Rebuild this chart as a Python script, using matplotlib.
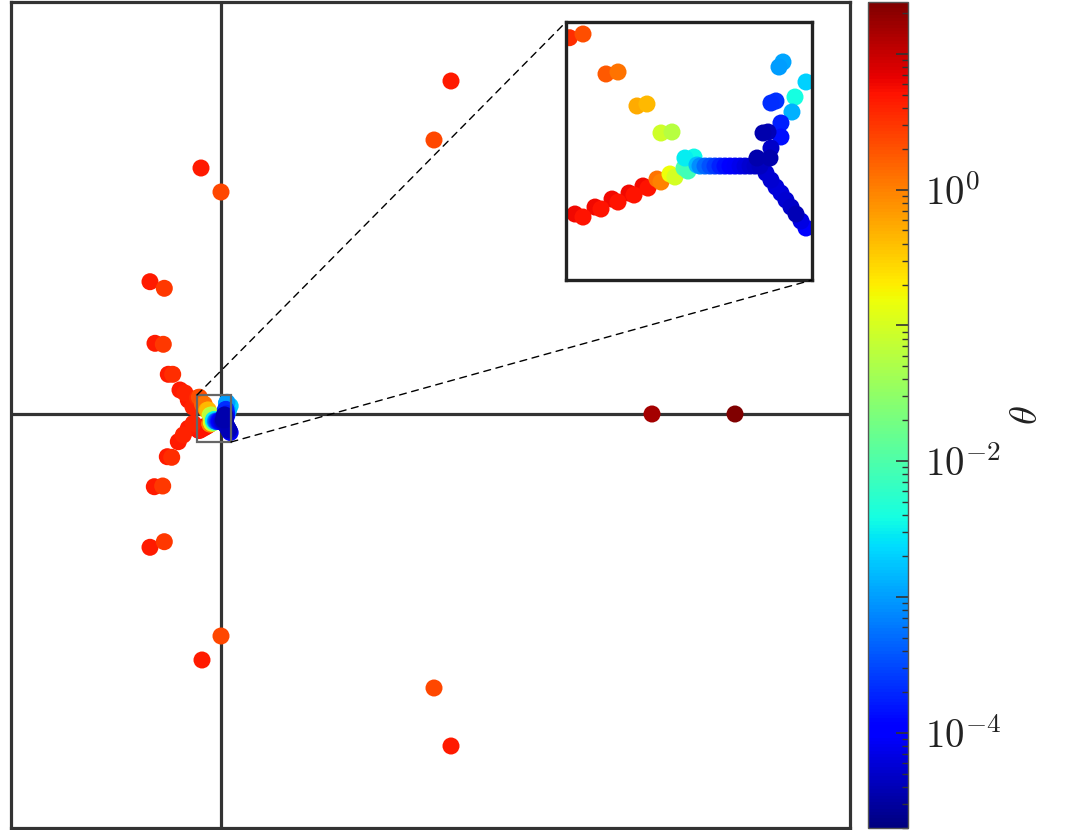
import numpy as np
import matplotlib
matplotlib.use("Agg")
import matplotlib.pyplot as plt
from matplotlib.colors import LogNorm
from matplotlib.patches import Rectangle, ConnectionPatch
from matplotlib.ticker import FixedLocator, FuncFormatter, NullFormatter

plt.rcParams['mathtext.fontset'] = 'cm'

# far-away eigenvalues (real part, imaginary part, theta)
far_re = [-0.195, 0.005, -0.185, 0.005, 2.305, 2.135, 2.135, 2.305, 4.315, 5.145,
          -0.705, -0.562, -0.655, -0.572, -0.522, -0.478, -0.405, -0.355, -0.322, -0.275,
          -0.705, -0.562, -0.662, -0.578, -0.532, -0.488, -0.422, -0.372, -0.322, -0.272]
far_im = [2.46, 2.22, -2.46, -2.22, 3.33, 2.74, -2.74, -3.32, 0.0, 0.0,
          1.323, 1.257, 0.707, 0.697, 0.397, 0.397, 0.24, 0.21, 0.14, 0.07,
          -1.333, -1.277, -0.727, -0.72, -0.427, -0.433, -0.277, -0.21, -0.143, -0.093]
far_theta = [4.5, 2.3, 4.5, 2.3, 4.5, 2.3, 2.3, 4.5, 15, 24,
             4.5, 3.0, 4.5, 3.0, 4.5, 3.5, 4.5, 4.0, 4.5, 4.0,
             4.5, 3.0, 4.5, 3.0, 4.5, 3.5, 4.5, 4.0, 4.5, 4.0]

# eigenvalues close to the origin (shown in the inset)
near_re = [-0.2302, -0.2115, -0.1797, -0.1631, -0.1369, -0.1231, -0.1037, -0.0885,
           -0.2226, -0.2115, -0.1949, -0.1866, -0.1714, -0.1631, -0.1479, -0.1410,
           -0.1286, -0.1217, -0.1092, -0.1037, -0.0913, -0.0844, -0.0719, -0.0664,
           -0.0706, -0.0581, -0.0540,
           -0.0498, -0.0429, -0.0360, -0.0291, -0.0222, -0.0153, -0.0084, -0.0014,
           0.0055, 0.0124, 0.0193, 0.0262, 0.0331,
           0.0414, 0.0483, 0.0552, 0.0621, 0.0690, 0.0760, 0.0829, 0.0898, 0.0967,
           0.0290, 0.0469, 0.0483, 0.0373, 0.0442, 0.0621, 0.0621, 0.0483, 0.0552,
           0.0773, 0.0815, 0.0967, 0.0594, 0.0649]
near_im = [0.1614, 0.1681, 0.0953, 0.0989, 0.0370, 0.0406, -0.0122, -0.0104,
           -0.1598, -0.1653, -0.1471, -0.1507, -0.1325, -0.1380, -0.1216, -0.1252,
           -0.1088, -0.1125, -0.0961, -0.1015, -0.0869, -0.0924, -0.0760, -0.0815,
           -0.0578, -0.0560, -0.0705,
           -0.0724, -0.0724, -0.0724, -0.0724, -0.0724, -0.0724, -0.0724, -0.0724,
           -0.0724, -0.0724, -0.0724, -0.0724, -0.0724,
           -0.0851, -0.0979, -0.1106, -0.1216, -0.1343, -0.1471, -0.1598, -0.1726, -0.1853,
           -0.0578, -0.0578, -0.0396, -0.0122, -0.0104, -0.0195, 0.0060, 0.0424, 0.0461,
           0.0260, 0.0533, 0.0807, 0.1080, 0.1171]
near_theta = [3.4, 2.1, 1.8, 1.25, 0.55, 0.42, 0.09, 0.059,
              6.0, 5.0, 6.0, 5.0, 6.0, 5.0, 6.0, 5.0,
              6.0, 5.0, 1.2, 1.0, 0.15, 0.10, 0.010, 0.008,
              0.003, 0.0035, 0.0015,
              8e-4, 5e-4, 3.5e-4, 2.5e-4, 1.8e-4, 1.4e-4, 1.1e-4, 9e-5,
              7.5e-5, 6.5e-5, 5.5e-5, 5e-5, 4.5e-5,
              5.5e-5, 5.5e-5, 6e-5, 6e-5, 5.5e-5, 5e-5, 4e-5, 7e-5, 1e-4,
              3.5e-5, 3.5e-5, 5e-5, 3.5e-5, 4e-5, 1.4e-4, 1.7e-4, 2.1e-4, 2.3e-4,
              1.3e-3, 4e-3, 2e-3, 1e-3, 1.1e-3]

re = np.array(far_re + near_re)
im = np.array(far_im + near_im)
theta = np.array(far_theta + near_theta)
order = np.argsort(-theta)
re, im, theta = re[order], im[order], theta[order]

norm = LogNorm(vmin=2e-5, vmax=24)
dark = '#333333'
msize = 150

fig = plt.figure(figsize=(10.8, 8.3), dpi=100)
ax = fig.add_axes([11 / 1080, 2 / 830, 839 / 1080, 826 / 830])
sc = ax.scatter(re, im, c=theta, cmap='jet', norm=norm, s=msize, linewidths=0, zorder=3)
ax.axhline(0, color=dark, lw=2.3, zorder=1)
ax.axvline(0, color=dark, lw=2.3, zorder=1)
ax.set_xlim(-2.095, 6.295)
ax.set_ylim(-4.14, 4.12)
ax.set_xticks([])
ax.set_yticks([])
for sp in ax.spines.values():
    sp.set_color(dark)
    sp.set_linewidth(2.3)

# zoomed inset
x0, x1, y0, y1 = -0.235, 0.105, -0.28, 0.19
axins = fig.add_axes([566 / 1080, 550 / 830, 246 / 1080, 258 / 830])
axins.scatter(re, im, c=theta, cmap='jet', norm=norm, s=msize, linewidths=0)
axins.set_xlim(x0, x1)
axins.set_ylim(y0, y1)
axins.set_xticks([])
axins.set_yticks([])
for sp in axins.spines.values():
    sp.set_color('#222222')
    sp.set_linewidth(2.4)

ax.add_patch(Rectangle((x0, y0), x1 - x0, y1 - y0, fill=False, ec='#666666', lw=1.6, zorder=4))
for pa, pb in [((x0, y1), (0, 1)), ((x1, y0), (1, 0))]:
    con = ConnectionPatch(xyA=pa, coordsA=ax.transData, xyB=pb, coordsB=axins.transAxes,
                          color='black', lw=1.0, ls=(0, (5, 4)))
    fig.add_artist(con)

# colorbar
cax = fig.add_axes([868 / 1080, 2 / 830, 40 / 1080, 826 / 830])
cb = fig.colorbar(sc, cax=cax)
cb.outline.set_edgecolor('#555555')
cb.outline.set_linewidth(1.0)
majors = [1e-4, 1e-3, 1e-2, 1e-1, 1, 10]
minors = [m * d for d in [1e-5, 1e-4, 1e-3, 1e-2, 1e-1, 1, 10] for m in range(2, 10)
          if 2e-5 <= m * d <= 24]
cax.yaxis.set_major_locator(FixedLocator(majors))
cax.yaxis.set_minor_locator(FixedLocator(minors))
cax.yaxis.set_major_formatter(FuncFormatter(
    lambda v, p: r'$10^{%d}$' % round(np.log10(v)) if round(np.log10(v)) % 2 == 0 else ''))
cax.yaxis.set_minor_formatter(NullFormatter())
cax.tick_params(which='major', direction='in', length=9, width=1.2, color=dark,
                labelsize=28, labelcolor='#222222', pad=12)
cax.tick_params(which='minor', direction='in', length=4, width=1.0, color=dark)
cb.set_label(r'$\theta$', fontsize=28, labelpad=4, color='#222222')

fig.savefig('out.png', dpi=100)
